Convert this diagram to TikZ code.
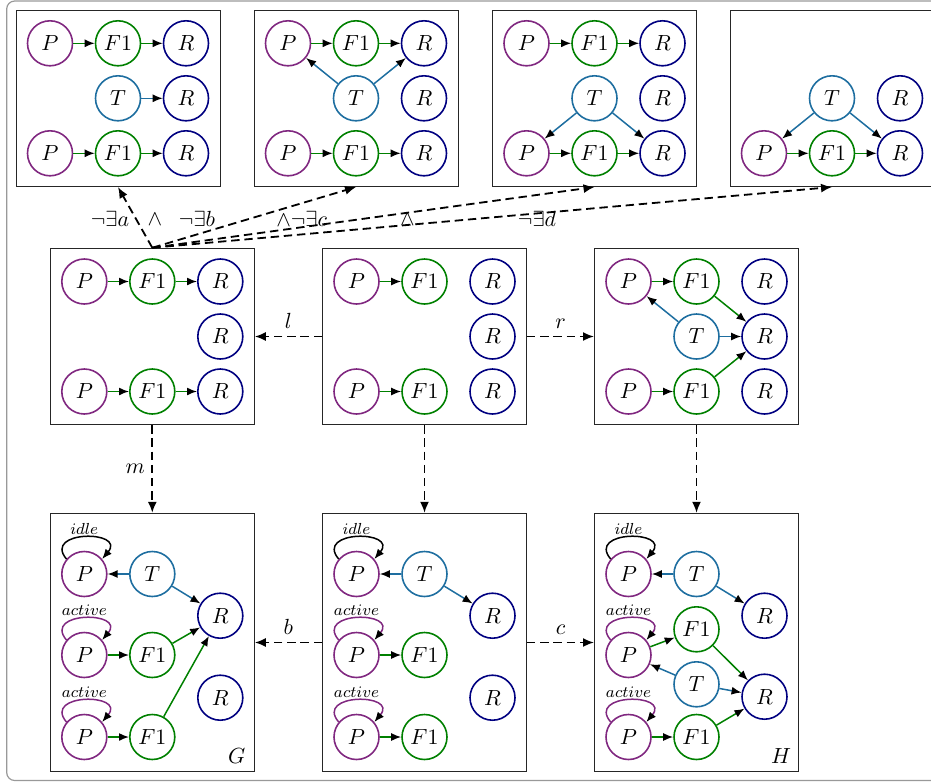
\documentclass[tikz,border=0pt]{standalone}
\usetikzlibrary{arrows.meta}
\definecolor{pcol}{RGB}{128,40,128}
\definecolor{fcol}{RGB}{0,128,0}
\definecolor{rcol}{RGB}{0,0,128}
\definecolor{tcol}{RGB}{30,110,160}
\tikzset{
  box/.style={draw=black!85, line width=0.5pt, minimum width=102pt, minimum height=88.25pt, inner sep=0pt},
  tallbox/.style={box, minimum height=129.2pt},
  nd/.style={circle, line width=0.8pt, minimum size=22.5pt, inner sep=0pt},
  pn/.style={nd, draw=pcol},
  fn/.style={nd, draw=fcol},
  rn/.style={nd, draw=rcol},
  tn/.style={nd, draw=tcol},
  ed/.style={line width=0.75pt, -{Latex[length=5pt,width=4pt,color=black]}},
  ge/.style={ed, draw=fcol},
  te/.style={ed, draw=tcol},
  dd/.style={line width=0.9pt, dash pattern=on 4.2pt off 2.4pt, -{Latex[length=5.5pt,width=4.5pt]}},
  idleloop/.style={line width=0.75pt, black, -{Latex[length=5pt,width=4pt,color=black]}},
  actloop/.style={line width=0.75pt, draw=pcol, -{Latex[length=5pt,width=4pt,color=black]}},
  lbl/.style={font=\fontsize{8}{9}\selectfont, inner sep=1pt}
}
\begin{document}
\begin{tikzpicture}[x=0.5pt,y=0.5pt,font=\fontsize{11}{13}\selectfont]
\useasboundingbox (0,0) rectangle (931,-782);
\clip (0,0) rectangle (931,-782);
\draw[black!40, line width=0.6pt, rounded corners=4pt] (6.7,-1) rectangle (960,-780.5);

% ---------- boxes ----------
\node[box] (T1) at (118,-98.3) {};
\node[box] (T2) at (356,-98.3) {};
\node[box] (T3) at (594.5,-98.3) {};
\node[box] (T4) at (832,-98.3) {};
\node[box] (M1) at (152.3,-336.5) {};
\node[box] (M2) at (424.5,-336.5) {};
\node[box] (M3) at (696.5,-336.5) {};
\node[tallbox] (B1) at (152.3,-642.5) {};
\node[tallbox] (B2) at (424.5,-642.5) {};
\node[tallbox] (B3) at (696.5,-642.5) {};

% ---------- top row ----------
% T1
\node[pn] (a1) at (50,-43.3) {$P$};
\node[fn] (a2) at (118,-43.3) {$F1$};
\node[rn] (a3) at (186,-43.3) {$R$};
\node[tn] (a4) at (118,-98.3) {$T$};
\node[rn] (a5) at (186,-98.3) {$R$};
\node[pn] (a6) at (50,-153.3) {$P$};
\node[fn] (a7) at (118,-153.3) {$F1$};
\node[rn] (a8) at (186,-153.3) {$R$};
\draw[ge] (a1) -- (a2); \draw[ge] (a2) -- (a3);
\draw[te] (a4) -- (a5);
\draw[ge] (a6) -- (a7); \draw[ge] (a7) -- (a8);
% T2
\node[pn] (b1) at (288,-43.3) {$P$};
\node[fn] (b2) at (356,-43.3) {$F1$};
\node[rn] (b3) at (424,-43.3) {$R$};
\node[tn] (b4) at (356,-98.3) {$T$};
\node[rn] (b5) at (424,-98.3) {$R$};
\node[pn] (b6) at (288,-153.3) {$P$};
\node[fn] (b7) at (356,-153.3) {$F1$};
\node[rn] (b8) at (424,-153.3) {$R$};
\draw[ge] (b1) -- (b2); \draw[ge] (b2) -- (b3);
\draw[te] (b4) -- (b1); \draw[te] (b4) -- (b3);
\draw[ge] (b6) -- (b7); \draw[ge] (b7) -- (b8);
% T3
\node[pn] (c1) at (526.5,-43.3) {$P$};
\node[fn] (c2) at (594.5,-43.3) {$F1$};
\node[rn] (c3) at (662.5,-43.3) {$R$};
\node[tn] (c4) at (594.5,-98.3) {$T$};
\node[rn] (c5) at (662.5,-98.3) {$R$};
\node[pn] (c6) at (526.5,-153.3) {$P$};
\node[fn] (c7) at (594.5,-153.3) {$F1$};
\node[rn] (c8) at (662.5,-153.3) {$R$};
\draw[ge] (c1) -- (c2); \draw[ge] (c2) -- (c3);
\draw[te] (c4) -- (c6); \draw[te] (c4) -- (c8);
\draw[ge] (c6) -- (c7); \draw[ge] (c7) -- (c8);
% T4
\node[tn] (d4) at (832,-98.3) {$T$};
\node[rn] (d5) at (900,-98.3) {$R$};
\node[pn] (d6) at (764,-153.3) {$P$};
\node[fn] (d7) at (832,-153.3) {$F1$};
\node[rn] (d8) at (900,-153.3) {$R$};
\draw[te] (d4) -- (d6); \draw[te] (d4) -- (d8);
\draw[ge] (d6) -- (d7); \draw[ge] (d7) -- (d8);

% ---------- middle row ----------
% M1
\node[pn] (e1) at (84.3,-281.5) {$P$};
\node[fn] (e2) at (152.3,-281.5) {$F1$};
\node[rn] (e3) at (220.3,-281.5) {$R$};
\node[rn] (e5) at (220.3,-336.5) {$R$};
\node[pn] (e6) at (84.3,-391.5) {$P$};
\node[fn] (e7) at (152.3,-391.5) {$F1$};
\node[rn] (e8) at (220.3,-391.5) {$R$};
\draw[ge] (e1) -- (e2); \draw[ge] (e2) -- (e3);
\draw[ge] (e6) -- (e7); \draw[ge] (e7) -- (e8);
% M2
\node[pn] (f1) at (356.5,-281.5) {$P$};
\node[fn] (f2) at (424.5,-281.5) {$F1$};
\node[rn] (f3) at (492.5,-281.5) {$R$};
\node[rn] (f5) at (492.5,-336.5) {$R$};
\node[pn] (f6) at (356.5,-391.5) {$P$};
\node[fn] (f7) at (424.5,-391.5) {$F1$};
\node[rn] (f8) at (492.5,-391.5) {$R$};
\draw[ge] (f1) -- (f2);
\draw[ge] (f6) -- (f7);
% M3
\node[pn] (g1) at (628.5,-281.5) {$P$};
\node[fn] (g2) at (696.5,-281.5) {$F1$};
\node[rn] (g3) at (764.5,-281.5) {$R$};
\node[tn] (g4) at (696.5,-336.5) {$T$};
\node[rn] (g5) at (764.5,-336.5) {$R$};
\node[pn] (g6) at (628.5,-391.5) {$P$};
\node[fn] (g7) at (696.5,-391.5) {$F1$};
\node[rn] (g8) at (764.5,-391.5) {$R$};
\draw[ge] (g1) -- (g2); \draw[ge] (g2) -- (g5);
\draw[te] (g4) -- (g1); \draw[te] (g4) -- (g5);
\draw[ge] (g6) -- (g7); \draw[ge] (g7) -- (g5);

% ---------- bottom row ----------
% G
\node[pn] (h1) at (84.3,-574) {$P$};
\node[tn] (h2) at (152.3,-574) {$T$};
\node[pn] (h3) at (84.3,-655) {$P$};
\node[fn] (h4) at (152.3,-655) {$F1$};
\node[pn] (h5) at (84.3,-737) {$P$};
\node[fn] (h6) at (152.3,-737) {$F1$};
\node[rn] (h7) at (220.3,-615.7) {$R$};
\node[rn] (h8) at (220.3,-697.7) {$R$};
\draw[te] (h2) -- (h1); \draw[te] (h2) -- (h7);
\draw[ge] (h3) -- (h4); \draw[ge] (h4) -- (h7);
\draw[ge] (h5) -- (h6); \draw[ge] (h6) -- (h7);
\draw[idleloop] (h1.140) .. controls +(130:38) and +(50:38) .. node[lbl,above] {$idle$} (h1.40);
\draw[actloop] (h3.140) .. controls +(130:38) and +(50:38) .. node[lbl,above] {$active$} (h3.40);
\draw[actloop] (h5.140) .. controls +(130:38) and +(50:38) .. node[lbl,above] {$active$} (h5.40);
\node (Glbl) at (236.7,-756) {$G$};
% middle
\node[pn] (i1) at (356.5,-574) {$P$};
\node[tn] (i2) at (424.5,-574) {$T$};
\node[pn] (i3) at (356.5,-655) {$P$};
\node[fn] (i4) at (424.5,-655) {$F1$};
\node[pn] (i5) at (356.5,-737) {$P$};
\node[fn] (i6) at (424.5,-737) {$F1$};
\node[rn] (i7) at (492.5,-615.7) {$R$};
\node[rn] (i8) at (492.5,-697.7) {$R$};
\draw[te] (i2) -- (i1); \draw[te] (i2) -- (i7);
\draw[ge] (i3) -- (i4);
\draw[ge] (i5) -- (i6);
\draw[idleloop] (i1.140) .. controls +(130:38) and +(50:38) .. node[lbl,above] {$idle$} (i1.40);
\draw[actloop] (i3.140) .. controls +(130:38) and +(50:38) .. node[lbl,above] {$active$} (i3.40);
\draw[actloop] (i5.140) .. controls +(130:38) and +(50:38) .. node[lbl,above] {$active$} (i5.40);
% H
\node[pn] (j1) at (628.5,-574) {$P$};
\node[tn] (j2) at (696.5,-574) {$T$};
\node[pn] (j3) at (628.5,-655) {$P$};
\node[fn] (j4) at (696.5,-629.3) {$F1$};
\node[tn] (j9) at (696.5,-684.3) {$T$};
\node[pn] (j5) at (628.5,-737) {$P$};
\node[fn] (j6) at (696.5,-737) {$F1$};
\node[rn] (j7) at (764.5,-615.7) {$R$};
\node[rn] (j8) at (764.5,-696.7) {$R$};
\draw[te] (j2) -- (j1); \draw[te] (j2) -- (j7);
\draw[ge] (j3) -- (j4); \draw[ge] (j4) -- (j8);
\draw[te] (j9) -- (j3); \draw[te] (j9) -- (j8);
\draw[ge] (j5) -- (j6); \draw[ge] (j6) -- (j8);
\draw[idleloop] (j1.140) .. controls +(130:38) and +(50:38) .. node[lbl,above] {$idle$} (j1.40);
\draw[actloop] (j3.140) .. controls +(130:38) and +(50:38) .. node[lbl,above] {$active$} (j3.40);
\draw[actloop] (j5.140) .. controls +(130:38) and +(50:38) .. node[lbl,above] {$active$} (j5.40);
\node (Hlbl) at (781,-756) {$H$};

% ---------- dashed connectors ----------
\draw[dd] (M2.west) -- node[above] {$l$} (M1.east);
\draw[dd] (M2.east) -- node[above] {$r$} (M3.west);
\draw[dd] (M1.south) -- node[left] {$m$} (B1.north);
\draw[dd] (M2.south) -- (B2.north);
\draw[dd] (M3.south) -- (B3.north);
\draw[dd] (B2.west) -- node[above] {$b$} (B1.east);
\draw[dd] (B2.east) -- node[above] {$c$} (B3.west);
\draw[dd] (M1.north) -- (T1.south);
\draw[dd] (M1.north) -- (T2.south);
\draw[dd] (M1.north) -- (T3.south);
\draw[dd] (M1.north) -- (T4.south);

\node (na) at (110,-219) {$\neg\exists a$};
\node (w1) at (155,-219) {$\wedge$};
\node (nb) at (197,-219) {$\neg\exists b$};
\node (nc) at (301.7,-219) {$\wedge\neg\exists c$};
\node (w2) at (407.5,-219) {$\wedge$};
\node (nd) at (537,-219) {$\neg\exists d$};
\end{tikzpicture}
\end{document}
